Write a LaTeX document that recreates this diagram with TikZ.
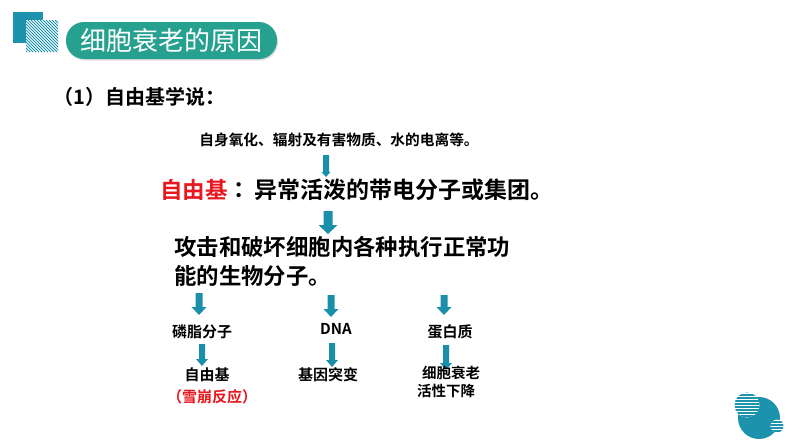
\documentclass[tikz,border=0pt]{standalone}
\usepackage{fontspec}
\newfontfamily\cjk{Noto Sans CJK SC}[BoldFont={Noto Sans CJK SC Bold}]
\usetikzlibrary{shadows}
\definecolor{pill}{RGB}{38,160,143}
\definecolor{teal1}{RGB}{28,146,172}
\definecolor{arrowc}{RGB}{26,143,170}
\definecolor{redt}{RGB}{232,22,30}
\tikzset{
  txt/.style={font=\cjk\bfseries, inner sep=0pt, text=black},
  blk/.style={fill=arrowc, draw=none}
}
% \barrow{cx}{top}{bottom}{shaft}{head}{headlen}
\newcommand{\barrow}[6]{%
  \fill[blk] ({#1-#4/2},#2) -- ({#1+#4/2},#2) -- ({#1+#4/2},{#3-#6}) -- ({#1+#5/2},{#3-#6})
    -- (#1,#3) -- ({#1-#5/2},{#3-#6}) -- ({#1-#4/2},{#3-#6}) -- cycle;}
\begin{document}
\begin{tikzpicture}[x=1pt,y=-1pt]
\useasboundingbox[fill=white] (0,0) rectangle (794,447);
% top-left decoration
\fill[teal1] (13,12) rectangle (43,43);
\fill[white] (26,20) rectangle (58,52);
\begin{scope}
  \clip (26,20) rectangle (58,52);
  \foreach \k in {-40,-37,...,40} {
    \draw[teal1, line width=0.9pt] ({26+\k},20) -- ({26+\k+32},52);
  }
\end{scope}
% title pill
\node[fill=pill, rounded corners=18pt, minimum width=211pt, minimum height=37pt,
  drop shadow={opacity=0.25, shadow xshift=1pt, shadow yshift=-1.5pt},
  text=white, font=\cjk\fontsize{26}{26}\selectfont, inner sep=0pt] (title) at (171.5,40.5) {细胞衰老的原因};
% heading
\node[txt, anchor=west, font=\cjk\bfseries\fontsize{20}{20}\selectfont] (head) at (53,97) {（1）自由基学说：};
% top line
\node[txt, font=\cjk\bfseries\fontsize{14.7}{14.7}\selectfont] (src) at (339,140) {自身氧化、辐射及有害物质、水的电离等。};
\barrow{326}{155}{177}{6}{9}{5}
% main definition
\node[txt, text=redt, anchor=west, font=\cjk\bfseries\fontsize{22.5}{22.5}\selectfont] (fr0) at (160,190) {自由基};
\node[txt, font=\cjk\bfseries\fontsize{22.5}{22.5}\selectfont] (colon) at (245,190) {：};
\node[txt, anchor=west, font=\cjk\bfseries\fontsize{23}{23}\selectfont] (def) at (254,190) {异常活泼的带电分子或集团。};
\barrow{328}{211}{234}{9}{19}{9}
% attack lines
\node[txt, anchor=west, font=\cjk\bfseries\fontsize{22.4}{22.4}\selectfont] (att1) at (174,247) {攻击和破坏细胞内各种执行正常功};
\node[txt, anchor=west, font=\cjk\bfseries\fontsize{22.4}{22.4}\selectfont] (att2) at (174,276) {能的生物分子。};
% row 1 arrows
\barrow{199}{293}{315}{7}{15}{8}
\barrow{331}{295}{317}{7}{15}{8}
\barrow{444}{295}{315}{7}{15}{8}
% row 1 labels
\node[txt, font=\cjk\bfseries\fontsize{15}{15}\selectfont] (lip) at (202,332) {磷脂分子};
\node[txt, font=\cjk\bfseries\fontsize{15}{15}\selectfont] (dna) at (336,329) {DNA};
\node[txt, font=\cjk\bfseries\fontsize{15}{15}\selectfont] (pro) at (450,332) {蛋白质};
% row 2 arrows
\barrow{202}{344}{366}{6}{12}{7}
\barrow{332}{343}{367}{6}{12}{7}
\barrow{446}{345}{370}{6}{12}{7}
% row 2 labels
\node[txt, font=\cjk\bfseries\fontsize{15}{15}\selectfont] (fr) at (207,375) {自由基};
\node[txt, font=\cjk\bfseries\fontsize{15}{15}\selectfont] (mut) at (328,375) {基因突变};
\node[txt, font=\cjk\bfseries\fontsize{14.5}{14.5}\selectfont] (age) at (451,373) {细胞衰老};
\node[txt, font=\cjk\bfseries\fontsize{14.5}{14.5}\selectfont] (act) at (446,391) {活性下降};
\node[txt, text=redt, font=\cjk\bfseries\fontsize{15}{15}\selectfont] (ava) at (212,397) {（雪崩反应）};
% bottom-right decoration
\fill[teal1] (759,418) circle (21);
\begin{scope}
  \clip (747,405) circle (12.5);
  \fill[white] (747,405) circle (12.5);
  \foreach \k in {392,395,...,420} {
    \draw[teal1, line width=1.1pt] (730,\k) -- (765,\k);
  }
\end{scope}
\begin{scope}
  \clip (777,426) circle (6.5);
  \fill[white] (777,426) circle (6.5);
  \foreach \k in {419,422,...,434} {
    \draw[teal1, line width=1.1pt] (768,\k) -- (786,\k);
  }
\end{scope}
\end{tikzpicture}
\end{document}
